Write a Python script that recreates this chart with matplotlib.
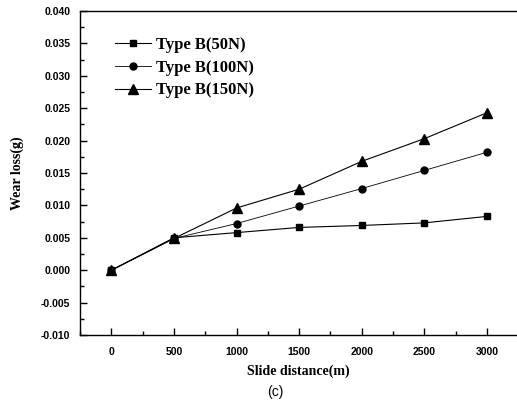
import matplotlib.pyplot as plt
from matplotlib.ticker import MultipleLocator

# slide distance (m)
distance = [0, 500, 1000, 1500, 2000, 2500, 3000]

# wear loss (g)
wear_50n = [0.0, 0.0050, 0.0058, 0.0066, 0.0069, 0.0073, 0.0083]
wear_100n = [0.0, 0.0049, 0.0072, 0.0099, 0.0126, 0.0154, 0.0182]
wear_150n = [0.0, 0.0049, 0.0096, 0.0125, 0.0168, 0.0203, 0.0243]

labels = ["Type B(50N)", "Type B(100N)", "Type B(150N)"]

serif = "Liberation Serif"
sans = "Liberation Sans"

fig = plt.figure(figsize=(5.17, 4.08), dpi=100)
ax = fig.add_axes([0.155, 0.179, 0.845, 0.794])

ax.plot(distance, wear_50n, color="black", lw=0.8, marker="s", ms=5, label=labels[0])
ax.plot(distance, wear_100n, color="black", lw=0.6, marker="o", ms=5, label=labels[1])
ax.plot(distance, wear_150n, color="black", lw=0.8, marker="^", ms=6.5, label=labels[2])

ax.set_xlim(-250, 3240)
ax.set_ylim(-0.010, 0.040)
ax.xaxis.set_major_locator(MultipleLocator(500))
ax.xaxis.set_minor_locator(MultipleLocator(250))
ax.yaxis.set_major_locator(MultipleLocator(0.005))
ax.yaxis.set_minor_locator(MultipleLocator(0.0025))
ax.yaxis.set_major_formatter(plt.FormatStrFormatter("%.3f"))

ax.spines["right"].set_visible(False)
for s in ["left", "bottom", "top"]:
    ax.spines[s].set_linewidth(1.0)

ax.tick_params(which="major", direction="in", length=5, width=1, labelsize=7.5)
ax.tick_params(which="minor", direction="in", length=3, width=1)
ax.tick_params(axis="x", pad=9)
ax.tick_params(axis="y", pad=7)
ax.tick_params(top=False, right=False, which="both")
for t in ax.get_xticklabels() + ax.get_yticklabels():
    t.set_fontfamily(sans)
    t.set_fontweight("bold")

ax.set_xlabel("Slide distance(m)", fontfamily=serif, fontweight="bold", fontsize=10, labelpad=5)
ax.set_ylabel("Wear loss(g)", fontfamily=serif, fontweight="bold", fontsize=10, labelpad=12)

ax.legend(loc="upper left", bbox_to_anchor=(0.064, 0.94), frameon=False,
          prop={"family": serif, "weight": "bold", "size": 12},
          handlelength=2.2, labelspacing=0.4, handletextpad=0.25, borderaxespad=0)

fig.text(0.532, 0.03, "(c)", fontfamily=sans, fontsize=10, ha="center")

fig.savefig("out.png", dpi=100)
